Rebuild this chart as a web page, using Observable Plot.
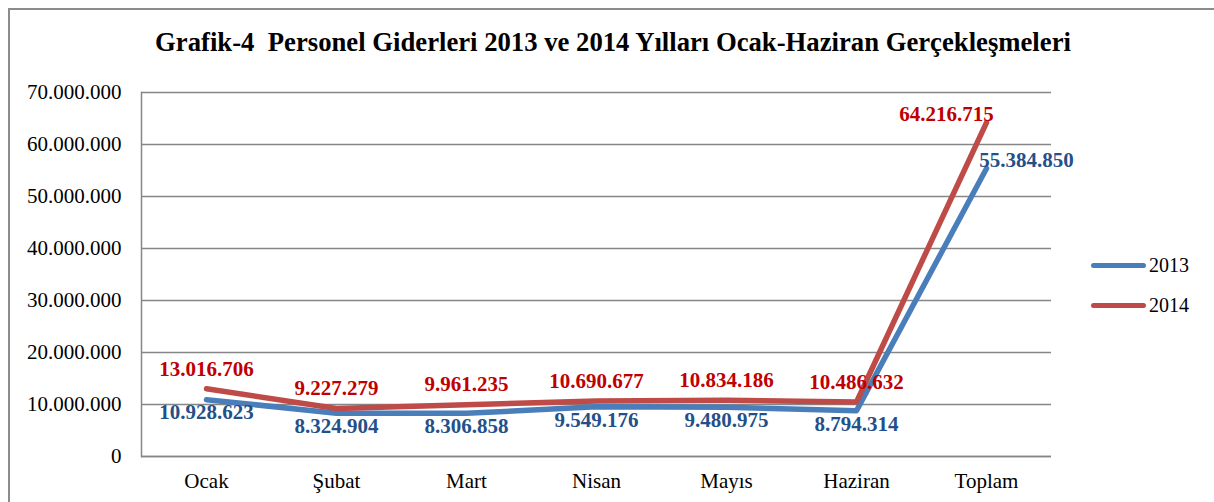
<!DOCTYPE html>
<html>
<head>
<meta charset="utf-8">
<script src="https://cdn.jsdelivr.net/npm/d3@7"></script>
<script src="https://cdn.jsdelivr.net/npm/@observablehq/plot@0.6"></script>
<style>
  html, body { margin: 0; padding: 0; background: #fff; overflow: hidden; }
  #wrap { position: relative; width: 1214px; height: 502px; overflow: hidden; }
  #border { position: absolute; left: 8px; top: 8px; width: 1400px; height: 700px; border: 2px solid #8c8c8c; box-sizing: border-box; }
  #chart { position: absolute; left: 0; top: 0; }
</style>
</head>
<body>
<div id="wrap">
  <div id="border"></div>
  <div id="chart"></div>
  <div id="title" style="position:absolute;left:0;width:1226px;top:28px;text-align:center;font-family:'Liberation Serif',serif;font-weight:bold;font-size:26.7px;line-height:28px;white-space:pre;color:#000;">Grafik-4  Personel Giderleri 2013 ve 2014 Yılları Ocak-Haziran Gerçekleşmeleri</div>
  <div id="legend"></div>
</div>
<script>
const categories = ["Ocak", "Şubat", "Mart", "Nisan", "Mayıs", "Haziran", "Toplam"];
const values2013 = [10928623, 8324904, 8306858, 9549176, 9480975, 8794314, 55384850];
const values2014 = [13016706, 9227279, 9961235, 10690677, 10834186, 10486632, 64216715];
const yTicks = [0, 10000000, 20000000, 30000000, 40000000, 50000000, 60000000, 70000000];
const seriesNames = ["2013", "2014"];

const lineColors = {"2013": "#4A7EBB", "2014": "#BE4B48"};
const labelColors = {"2013": "#24508A", "2014": "#C00000"};

const fmt = n => d3.format(",")(n).replace(/,/g, ".");

const rows = [];
categories.forEach((c, i) => {
  rows.push({cat: c, series: "2013", value: values2013[i]});
  rows.push({cat: c, series: "2014", value: values2014[i]});
});
const lastCat = categories[categories.length - 1];
const r13 = rows.filter(d => d.series === "2013");
const r14 = rows.filter(d => d.series === "2014");
const fontFamily = "'Liberation Serif', serif";

const chart = Plot.plot({
  width: 1214,
  height: 502,
  marginTop: 92,
  marginBottom: 46,
  marginLeft: 141,
  marginRight: 163,
  x: {type: "point", domain: categories, padding: 0.5},
  y: {domain: [0, 70000000]},
  style: {fontFamily, fontSize: "21px", color: "#000", background: "transparent", overflow: "visible"},
  marks: [
    Plot.gridY(yTicks, {stroke: "#868686", strokeOpacity: 1, strokeWidth: 1.5}),
    Plot.ruleY([0], {stroke: "#868686", strokeWidth: 1.5}),
    Plot.frame({anchor: "left", stroke: "#868686", strokeWidth: 1.5}),
    Plot.axisY(yTicks, {tickSize: 0, tickPadding: 20, tickFormat: fmt, label: null, fontSize: 21}),
    Plot.axisX({tickSize: 0, tickPadding: 17, label: null, fontSize: 21}),
    Plot.line(r13, {x: "cat", y: "value", stroke: lineColors["2013"], strokeWidth: 5.5, strokeLinejoin: "round", strokeLinecap: "round"}),
    Plot.line(r14, {x: "cat", y: "value", stroke: lineColors["2014"], strokeWidth: 5.5, strokeLinejoin: "round", strokeLinecap: "round"}),
    Plot.text(r13.filter(d => d.cat !== lastCat), {x: "cat", y: "value", text: d => fmt(d.value), fill: labelColors["2013"], fontWeight: "bold", fontSize: 21, dy: 13}),
    Plot.text(r14.filter(d => d.cat !== lastCat), {x: "cat", y: "value", text: d => fmt(d.value), fill: labelColors["2014"], fontWeight: "bold", fontSize: 21, dy: -20}),
    Plot.text(r13.filter(d => d.cat === lastCat), {x: "cat", y: "value", text: d => fmt(d.value), fill: labelColors["2013"], fontWeight: "bold", fontSize: 21, dx: 40, dy: -8}),
    Plot.text(r14.filter(d => d.cat === lastCat), {x: "cat", y: "value", text: d => fmt(d.value), fill: labelColors["2014"], fontWeight: "bold", fontSize: 21, dx: -40, dy: -8})
  ]
});
document.getElementById("chart").appendChild(chart);

const legend = document.getElementById("legend");
seriesNames.forEach((s, i) => {
  const cy = 265 + i * 40;
  const line = document.createElement("div");
  line.style.cssText = `position:absolute;left:1091px;width:55px;height:5px;border-radius:3px;top:${cy - 2.5}px;background:${lineColors[s]};`;
  legend.appendChild(line);
  const t = document.createElement("div");
  t.style.cssText = `position:absolute;left:1149px;top:${cy - 12}px;font-family:'Liberation Serif',serif;font-size:20px;line-height:24px;color:#000;`;
  t.textContent = s;
  legend.appendChild(t);
});
</script>
</body>
</html>
